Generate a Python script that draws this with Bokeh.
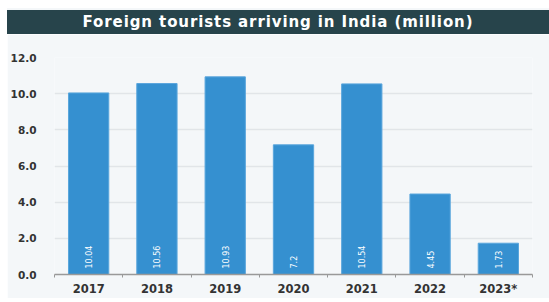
from bokeh.plotting import figure
from bokeh.models import (ColumnDataSource, Range1d, FixedTicker, NumeralTickFormatter, Div)
from bokeh.layouts import column
from bokeh.core.properties import value
from bokeh.embed import file_html
from bokeh.resources import INLINE
import math

years = ["2017", "2018", "2019", "2020", "2021", "2022", "2023*"]
arrivals = [10.04, 10.56, 10.93, 7.17, 10.54, 4.45, 1.73]
bar_labels = ["10.04", "10.56", "10.93", "7.2", "10.54", "4.45", "1.73"]
y_ticks = [0, 2, 4, 6, 8, 10, 12]
title_text = "Foreign tourists arriving in India (million)"

BG = "#f4f7f9"
BAR = "#3590d0"
FONT = "DejaVu Sans"

n = len(years)
centers = [i + 0.5 for i in range(n)]
src = ColumnDataSource(dict(x=centers, year=years, val=arrivals, lab=bar_labels, zero=[0] * n))

title = Div(
    text=(f'<div style="margin-top:2px;width:542px;height:24px;background:#27444b;color:#ffffff;'
          f'font-family:\'{FONT}\';font-weight:bold;font-size:15px;letter-spacing:0.9px;'
          f'line-height:24px;text-align:center;">{title_text}</div>'),
    width=542, height=26, margin=0,
    styles={"background-color": BG},
)

p = figure(width=542, height=264, x_range=Range1d(0, n), y_range=Range1d(0, 12),
           output_backend="svg", toolbar_location=None,
           background_fill_color=BG, border_fill_color=BG, outline_line_color=None,
           min_border_left=45, min_border_right=17, min_border_top=23, min_border_bottom=0)

p.xaxis.ticker = FixedTicker(ticks=centers, minor_ticks=list(range(n + 1)))
p.xaxis.major_label_overrides = {c: y for c, y in zip(centers, years)}
p.xaxis.axis_line_color = "#999999"
p.xaxis.axis_line_width = 1.5
p.xaxis.major_tick_line_color = None
p.xaxis.minor_tick_line_color = "#999999"
p.xaxis.minor_tick_out = 3
p.xaxis.minor_tick_in = 0
p.xaxis.major_label_standoff = 1
p.xaxis.major_label_text_font = FONT
p.xaxis.major_label_text_font_size = "11.5px"
p.xaxis.major_label_text_font_style = "bold"
p.xaxis.major_label_text_color = "#333333"

p.yaxis.ticker = FixedTicker(ticks=y_ticks)
p.yaxis.formatter = NumeralTickFormatter(format="0.0")
p.yaxis.axis_line_color = None
p.yaxis.major_tick_line_color = None
p.yaxis.minor_tick_line_color = None
p.yaxis.major_label_standoff = 12
p.yaxis.major_label_text_font = FONT
p.yaxis.major_label_text_font_size = "10.5px"
p.yaxis.major_label_text_font_style = "bold"
p.yaxis.major_label_text_color = "#333333"

p.xgrid.grid_line_color = None
p.ygrid.grid_line_color = "#e1e5e8"
p.ygrid.grid_line_width = 1.5

p.vbar(x="x", top="val", width=0.59, source=src, fill_color=BAR, line_color="#5aa6dc", line_width=1)

p.text(x="x", y="zero", text="lab", source=src, angle=math.pi / 2,
       text_align="left", text_baseline="middle", y_offset=-6,
       text_color="white", text_font=value(FONT), text_font_size="8px")

layout = column(title, p, spacing=0, margin=(8, 0, 0, 7))
open("out.html", "w").write(file_html(layout, INLINE))
